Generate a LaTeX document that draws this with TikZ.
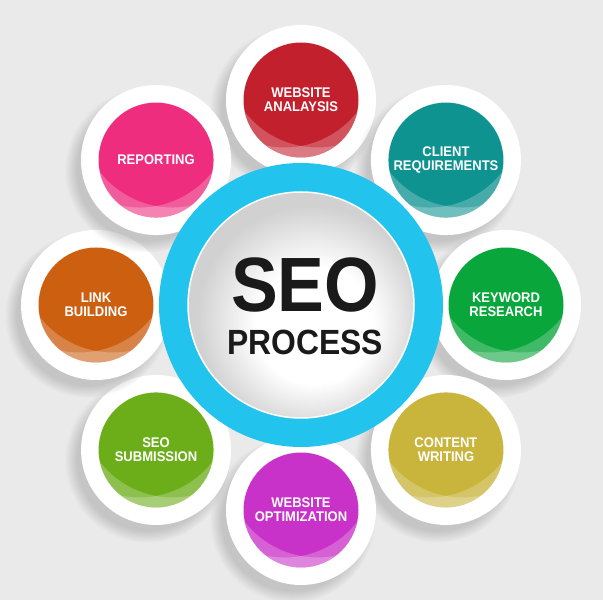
\documentclass[tikz,border=0pt]{standalone}
\usepackage{fontspec}
\setmainfont{Liberation Sans}
\newfontfamily\lblfont[FakeStretch=0.93]{Liberation Sans}
\newfontfamily\seofont[FakeStretch=0.91]{Liberation Sans}
\usepackage{tikz}
\usetikzlibrary{shadows,calc,positioning}
\definecolor{bggrey}{HTML}{EAEAEA}
\definecolor{ringblue}{HTML}{22C4EE}
\definecolor{seoblack}{HTML}{1A1A1A}
\definecolor{wared}{HTML}{C3202E}
\definecolor{crteal}{HTML}{0F9391}
\definecolor{krgreen}{HTML}{08A63B}
\definecolor{cwolive}{HTML}{C9B43C}
\definecolor{womagenta}{HTML}{C932C8}
\definecolor{ssgreen}{HTML}{6BAE1A}
\definecolor{lborange}{HTML}{CD5F11}
\definecolor{rppink}{HTML}{EE2D7E}
\pgfdeclareradialshading{discshade}{\pgfpoint{4bp}{-6bp}}{color(0bp)=(white);
  color(13bp)=(white); color(25bp)=(black!18); color(50bp)=(black!18)}
\tikzstyle{rim}   =[circle, fill=white, minimum size=150pt, inner sep=0pt,
                    circular drop shadow={shadow xshift=-8pt,
                    shadow yshift=-9pt, shadow scale=1.1, opacity=.35}]
\tikzstyle{bubble}=[circle, minimum size=115pt, inner sep=0pt, text=white,
                    align=center,
                    font=\lblfont\bfseries\fontsize{14}{14}\selectfont,
                    path picture={
                      \fill[white, opacity=.23, even odd rule]
                        (path picture bounding box.center) circle (57.5)
                        ($(path picture bounding box.center)+(16.5,44.5)$) circle (92);
                      \fill[white, opacity=.23, even odd rule]
                        (path picture bounding box.center) circle (57.5)
                        ($(path picture bounding box.center)+(-16.5,44.5)$) circle (92);
                    }]
\tikzstyle{title} =[anchor=base, inner sep=0pt, text=seoblack]

\begin{document}
\begin{tikzpicture}[x=1pt, y=1pt]
    \useasboundingbox (0,0) rectangle (603,600);
    \fill[bggrey] (0,0) rectangle (603,600);
    \begin{scope}[shift={(301,295)}]
        % white rims
        \node (waRim) [rim] at (90:205)   {};
        \node (crRim) [rim] at (45:205)   {};
        \node (krRim) [rim] at (0:205)    {};
        \node (cwRim) [rim] at (-45:205)  {};
        \node (woRim) [rim] at (-90:205)  {};
        \node (ssRim) [rim] at (-135:205) {};
        \node (lbRim) [rim] at (180:205)  {};
        \node (rpRim) [rim] at (135:205)  {};
        % coloured steps
        \node (wa) [bubble, fill=wared]     at (waRim) {WEBSITE\\ANALAYSIS};
        \node (cr) [bubble, fill=crteal]    at (crRim) {CLIENT\\REQUIREMENTS};
        \node (kr) [bubble, fill=krgreen]   at (krRim) {KEYWORD\\RESEARCH};
        \node (cw) [bubble, fill=cwolive]   at (cwRim) {CONTENT\\WRITING};
        \node (wo) [bubble, fill=womagenta] at (woRim) {WEBSITE\\OPTIMIZATION};
        \node (ss) [bubble, fill=ssgreen]   at (ssRim) {SEO\\SUBMISSION};
        \node (lb) [bubble, fill=lborange]  at (lbRim) {LINK\\BUILDING};
        \node (rp) [bubble, fill=rppink]    at (rpRim) {REPORTING};
        % centre
        \node (ring) [circle, fill=ringblue, minimum size=284pt] at (0,0) {};
        \node (disc) [circle, minimum size=226pt, draw=white, line width=1.5pt,
                      shading=discshade] at (ring) {};
    \end{scope}
    \node (seo)  [title, font=\seofont\bfseries\fontsize{77}{77}\selectfont]
        at (305,288) {SEO};
    \node (proc) [title, font=\seofont\bfseries\fontsize{35}{35}\selectfont]
        at (305,245) {PROCESS};
\end{tikzpicture}
\end{document}
